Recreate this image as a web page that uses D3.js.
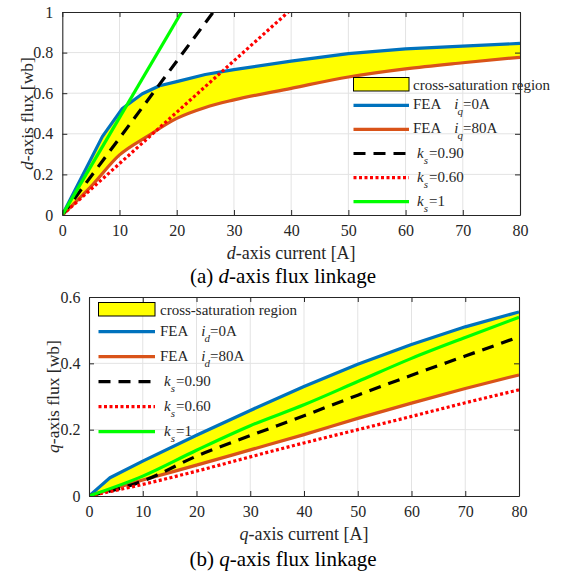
<!DOCTYPE html>
<html>
<head>
<meta charset="utf-8">
<script src="https://cdn.jsdelivr.net/npm/d3@7"></script>
<style>
  html, body { margin: 0; padding: 0; background: #fff; }
  svg { display: block; }
  svg text, svg tspan { font-family: "Liberation Serif", "Times New Roman", Times, serif !important; }
</style>
</head>
<body>
<svg id="chart" width="561" height="576" font-family="Liberation Serif, serif"></svg>
<script>
// ---------- DATA: (a) d-axis ----------
const dXTicks = [0, 10, 20, 30, 40, 50, 60, 70, 80];
const dYTicks = [0, 0.2, 0.4, 0.6, 0.8, 1];
const dFea0Current = [0, 7, 10.5, 14, 17, 20, 25, 30, 40, 50, 60, 70, 80];
const dFea0Flux    = [0, 0.386, 0.525, 0.597, 0.637, 0.657, 0.692, 0.716, 0.758, 0.795, 0.818, 0.832, 0.845];
const dFea80Current = [0, 5, 10, 15, 20, 25, 30, 40, 50, 60, 70, 80];
const dFea80Flux    = [0, 0.14, 0.296, 0.39, 0.476, 0.53, 0.567, 0.624, 0.68, 0.72, 0.75, 0.777];
const dKs090Current = [0, 26.4];
const dKs090Flux    = [0, 1];
const dKs060Current = [0, 39.5];
const dKs060Flux    = [0, 1];
const dKs1Current   = [0, 20.85];
const dKs1Flux      = [0, 1];

// ---------- DATA: (b) q-axis ----------
const qXTicks = [0, 10, 20, 30, 40, 50, 60, 70, 80];
const qYTicks = [0, 0.2, 0.4, 0.6];
const qFea0Current = [0, 3.9, 10, 20, 30, 40, 50, 60, 70, 80];
const qFea0Flux    = [0, 0.055, 0.105, 0.183, 0.258, 0.33, 0.397, 0.457, 0.51, 0.555];
const qCurrent      = [0, 10, 20, 30, 40, 50, 60, 70, 80];
const qFea80Flux    = [0, 0.048, 0.093, 0.139, 0.185, 0.234, 0.28, 0.324, 0.365];
const qKs090Flux    = [0, 0.045, 0.12, 0.182, 0.242, 0.304, 0.364, 0.422, 0.48];
const qKs060Flux    = [0, 0.035, 0.075, 0.118, 0.16, 0.2, 0.24, 0.281, 0.32];
const qKs1Flux      = [0, 0.06, 0.138, 0.212, 0.275, 0.345, 0.415, 0.478, 0.539];

// ---------- TEXT ----------
const legendRegion = "cross-saturation region";
const legendD = [
  [{t:"FEA"}, {t:"i", it:true, dx:13}, {t:"q", it:true, sub:true, dx:-1}, {t:"=0A"}],
  [{t:"FEA"}, {t:"i", it:true, dx:13}, {t:"q", it:true, sub:true, dx:-1}, {t:"=80A"}],
  [{t:"k", it:true}, {t:"s", it:true, sub:true}, {t:"=0.90", dx:1}],
  [{t:"k", it:true}, {t:"s", it:true, sub:true}, {t:"=0.60", dx:1}],
  [{t:"k", it:true}, {t:"s", it:true, sub:true}, {t:"=1", dx:1}]
];
const legendQ = [
  [{t:"FEA"}, {t:"i", it:true, dx:13}, {t:"d", it:true, sub:true, dx:-1}, {t:"=0A"}],
  [{t:"FEA"}, {t:"i", it:true, dx:13}, {t:"d", it:true, sub:true, dx:-1}, {t:"=80A"}],
  [{t:"k", it:true}, {t:"s", it:true, sub:true}, {t:"=0.90", dx:1}],
  [{t:"k", it:true}, {t:"s", it:true, sub:true}, {t:"=0.60", dx:1}],
  [{t:"k", it:true}, {t:"s", it:true, sub:true}, {t:"=1", dx:1}]
];
const xLabelD = [{t:"d", it:true}, {t:"-axis current [A]"}];
const yLabelD = [{t:"d", it:true}, {t:"-axis flux [wb]"}];
const titleD  = [{t:"(a) "}, {t:"d", it:true}, {t:"-axis flux linkage"}];
const xLabelQ = [{t:"q", it:true}, {t:"-axis current [A]"}];
const yLabelQ = [{t:"q", it:true}, {t:"-axis flux [wb]"}];
const titleQ  = [{t:"(b) "}, {t:"q", it:true}, {t:"-axis flux linkage"}];

// ---------- STYLES ----------
const FONT = '"Liberation Serif", "Times New Roman", Times, serif';
const styles = [
  {color:"#0072BD", dash:null,    curve:d3.curveLinear},
  {color:"#D95319", dash:null,    curve:d3.curveMonotoneX},
  {color:"#000000", dash:"12,8",  curve:d3.curveMonotoneX},
  {color:"#FF0000", dash:"3,2.5", curve:d3.curveMonotoneX},
  {color:"#00FF00", dash:null,    curve:d3.curveMonotoneX}
];
const LW = 3.2;
const AX = "#262626";

const zip = (xs, ys) => xs.map((x, i) => [x, ys[i]]);
const svg = d3.select("#chart");

function rich(sel, parts, size) {
  sel.attr("font-family", FONT);
  let shifted = false;
  parts.forEach(p => {
    const ts = sel.append("tspan").text(p.t).attr("font-family", FONT);
    if (p.it) ts.attr("font-style", "italic");
    let dy = 0;
    if (p.sub && !shifted) { dy = size * 0.4; shifted = true; ts.attr("font-size", size * 0.73); }
    else if (!p.sub && shifted) { dy = -size * 0.4; shifted = false; }
    else if (p.sub) ts.attr("font-size", size * 0.73);
    if (dy) ts.attr("dy", dy);
    if (p.dx) ts.attr("dx", p.dx);
  });
}

function panel(cfg) {
  const x = d3.scaleLinear().domain([0, 80]).range([cfg.left, cfg.right]);
  const y = d3.scaleLinear().domain(cfg.yDomain).range([cfg.bottom, cfg.top]);
  const g = svg.append("g");
  const clipId = "clip" + cfg.id;
  svg.append("clipPath").attr("id", clipId).append("rect")
    .attr("x", cfg.left).attr("y", cfg.top)
    .attr("width", cfg.right - cfg.left).attr("height", cfg.bottom - cfg.top);

  // grid
  g.append("g").selectAll("line").data(cfg.xTicks.slice(1, -1)).join("line")
    .attr("x1", d => x(d)).attr("x2", d => x(d)).attr("y1", cfg.top).attr("y2", cfg.bottom)
    .attr("stroke", "#e3e3e3").attr("stroke-width", 1);
  g.append("g").selectAll("line").data(cfg.yTicks.slice(1, -1)).join("line")
    .attr("y1", d => y(d)).attr("y2", d => y(d)).attr("x1", cfg.left).attr("x2", cfg.right)
    .attr("stroke", "#e3e3e3").attr("stroke-width", 1);

  const plot = g.append("g").attr("clip-path", `url(#${clipId})`);
  // cross-saturation region
  const upperLine = d3.line().x(d => x(d[0])).y(d => y(d[1])).curve(styles[0].curve);
  const lowerLine = d3.line().x(d => x(d[0])).y(d => y(d[1])).curve(styles[1].curve);
  const upD = upperLine(cfg.upper);
  const loD = lowerLine(cfg.lower.slice().reverse());
  plot.append("path").attr("d", upD + "L" + loD.slice(1) + "Z").attr("fill", "#FFFF00").attr("stroke", "none");
  cfg.series.forEach((s, i) => {
    const line = d3.line().x(d => x(d[0])).y(d => y(d[1])).curve(styles[i].curve);
    plot.append("path").attr("d", line(s)).attr("fill", "none")
      .attr("stroke", styles[i].color).attr("stroke-width", LW)
      .attr("stroke-dasharray", styles[i].dash)
      .attr("stroke-linejoin", "round");
  });

  // axes
  const fmt = d3.format("~g");
  const ax = g.append("g").attr("transform", `translate(0,${cfg.bottom})`)
    .call(d3.axisBottom(x).tickValues(cfg.xTicks).tickFormat(fmt).tickSizeInner(-5).tickSizeOuter(0).tickPadding(9.5));
  const ay = g.append("g").attr("transform", `translate(${cfg.left},0)`)
    .call(d3.axisLeft(y).tickValues(cfg.yTicks).tickFormat(fmt).tickSizeInner(-5).tickSizeOuter(0).tickPadding(cfg.yPad));
  const at = g.append("g").attr("transform", `translate(0,${cfg.top})`)
    .call(d3.axisTop(x).tickValues(cfg.xTicks).tickFormat("").tickSizeInner(-5).tickSizeOuter(0));
  const ar = g.append("g").attr("transform", `translate(${cfg.right},0)`)
    .call(d3.axisRight(y).tickValues(cfg.yTicks).tickFormat("").tickSizeInner(-5).tickSizeOuter(0));
  [ax, ay, at, ar].forEach(a => {
    a.attr("font-family", FONT).attr("font-size", 16);
    a.select(".domain").attr("stroke", AX).attr("stroke-width", 1.1);
    a.selectAll(".tick line").attr("stroke", AX).attr("stroke-width", 1);
    a.selectAll("text").attr("font-size", 16).attr("fill", AX).attr("font-family", FONT);
  });

  // labels
  rich(g.append("text").attr("x", (cfg.left + cfg.right) / 2).attr("y", cfg.xLabelY)
    .attr("text-anchor", "middle").attr("font-size", 18).attr("fill", AX), cfg.xLabel, 18);
  rich(g.append("text").attr("transform", `translate(${cfg.yLabelX},${(cfg.top + cfg.bottom) / 2}) rotate(-90)`)
    .attr("text-anchor", "middle").attr("font-size", 17.5).attr("fill", AX), cfg.yLabel, 17.5);
  rich(g.append("text").attr("x", 283).attr("y", cfg.titleY)
    .attr("text-anchor", "middle").attr("font-size", 21).attr("fill", "#000"), cfg.title, 21);

  // legend
  const L = cfg.legend;
  const lg = g.append("g");
  lg.append("rect").attr("x", L.x).attr("y", L.y).attr("width", L.w).attr("height", 13.5)
    .attr("fill", "#FFFF00").attr("stroke", "#000").attr("stroke-width", 1);
  lg.append("text").attr("x", L.tx).attr("y", L.y + 12).attr("font-size", 15)
    .attr("font-family", FONT).attr("fill", AX).text(legendRegion);
  L.labels.forEach((lab, i) => {
    const ly = L.first + i * L.gap;
    lg.append("line").attr("x1", L.x).attr("x2", L.x + L.w).attr("y1", ly).attr("y2", ly)
      .attr("stroke", styles[i].color).attr("stroke-width", LW)
      .attr("stroke-dasharray", styles[i].dash);
    const isK = lab[0].t === "k";
    rich(lg.append("text").attr("x", isK ? L.tx + 4 : L.tx).attr("y", ly + 4)
      .attr("font-size", 15).attr("fill", AX), lab, 15);
  });
}

panel({
  id: "d", left: 62.3, right: 520, top: 12, bottom: 215, yDomain: [0, 1],
  xTicks: dXTicks, yTicks: dYTicks, yPad: 9,
  upper: zip(dFea0Current, dFea0Flux), lower: zip(dFea80Current, dFea80Flux),
  series: [zip(dFea0Current, dFea0Flux), zip(dFea80Current, dFea80Flux),
           zip(dKs090Current, dKs090Flux), zip(dKs060Current, dKs060Flux), zip(dKs1Current, dKs1Flux)],
  xLabel: xLabelD, yLabel: yLabelD, title: titleD,
  xLabelY: 259, yLabelX: 33, titleY: 283,
  legend: {x: 353.5, y: 77.5, w: 55.5, tx: 413, first: 105.3, gap: 24.1, labels: legendD}
});

panel({
  id: "q", left: 89, right: 519, top: 297, bottom: 496, yDomain: [0, 0.6],
  xTicks: qXTicks, yTicks: qYTicks, yPad: 8.5,
  upper: zip(qFea0Current, qFea0Flux), lower: zip(qCurrent, qFea80Flux),
  series: [zip(qFea0Current, qFea0Flux), zip(qCurrent, qFea80Flux),
           zip(qCurrent, qKs090Flux), zip(qCurrent, qKs060Flux), zip(qCurrent, qKs1Flux)],
  xLabel: xLabelQ, yLabel: yLabelQ, title: titleQ,
  xLabelY: 540, yLabelX: 58.5, titleY: 566,
  legend: {x: 98.5, y: 302.5, w: 56.5, tx: 160, first: 331.7, gap: 25, labels: legendQ}
});
</script>
</body>
</html>
